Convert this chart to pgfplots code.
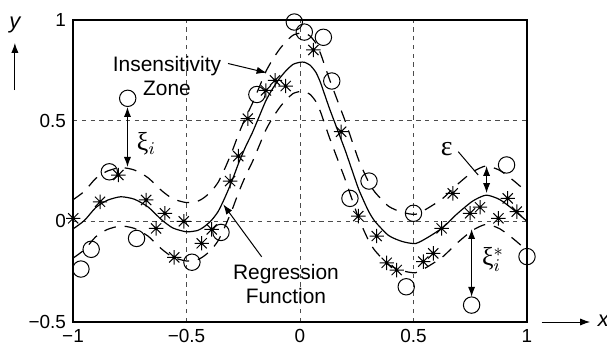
\documentclass[border=0pt]{standalone}
\usepackage{pgfplots}
\pgfplotsset{compat=1.18}
\usepackage{pgfplotstable}
\usepackage{fontspec}
\setmainfont{Liberation Sans}
\newfontfamily\gk{Liberation Serif}
\usetikzlibrary{arrows.meta}

\pgfdeclareplotmark{mstar}{%
 \pgfpathmoveto{\pgfqpoint{-\pgfplotmarksize}{0pt}}\pgfpathlineto{\pgfqpoint{\pgfplotmarksize}{0pt}}%
 \pgfpathmoveto{\pgfqpoint{0pt}{-\pgfplotmarksize}}\pgfpathlineto{\pgfqpoint{0pt}{\pgfplotmarksize}}%
 \pgfpathmoveto{\pgfqpoint{-0.707\pgfplotmarksize}{-0.707\pgfplotmarksize}}\pgfpathlineto{\pgfqpoint{0.707\pgfplotmarksize}{0.707\pgfplotmarksize}}%
 \pgfpathmoveto{\pgfqpoint{-0.707\pgfplotmarksize}{0.707\pgfplotmarksize}}\pgfpathlineto{\pgfqpoint{0.707\pgfplotmarksize}{-0.707\pgfplotmarksize}}%
 \pgfusepathqstroke}

\pgfplotstableread{
x y
-1 -0.038
-0.95 0.004
-0.9 0.068
-0.85 0.104
-0.79 0.122
-0.73 0.11
-0.67 0.072
-0.61 0.008
-0.56 -0.033
-0.5 -0.052
-0.45 -0.045
-0.42 -0.025
-0.39 0.005
-0.36 0.05
-0.33 0.12
-0.3 0.2
-0.27 0.29
-0.24 0.37
-0.21 0.44
-0.18 0.52
-0.15 0.6
-0.12 0.66
-0.09 0.71
-0.06 0.75
-0.03 0.78
0 0.79
0.02 0.79
0.045 0.775
0.07 0.74
0.09 0.69
0.11 0.625
0.13 0.56
0.155 0.485
0.18 0.41
0.2 0.35
0.235 0.235
0.26 0.155
0.3 0.055
0.33 0.0
0.39 -0.07
0.45 -0.1
0.51 -0.11
0.57 -0.075
0.63 -0.03
0.69 0.035
0.76 0.1
0.82 0.13
0.88 0.108
0.94 0.058
1 0
}\curve

\pgfplotstableread{
x y
-0.759 0.611
-0.84 0.246
-0.92 -0.139
-0.965 -0.237
-0.72 -0.085
-0.476 -0.203
-0.348 -0.055
-0.19 0.63
-0.025 0.99
0.019 0.94
0.103 0.914
0.14 0.697
0.22 0.114
0.304 0.2
0.5 0.04
0.468 -0.325
0.756 -0.416
0.91 0.28
1.0 -0.175
}\circles

\pgfplotstableread{
x y
-0.8 0.23
-0.881 0.097
-0.999 0.015
-0.678 0.106
-0.595 0.04
-0.634 -0.035
-0.512 0.0
-0.554 -0.179
-0.433 -0.109
-0.389 -0.04
-0.308 0.2
-0.272 0.324
-0.23 0.51
-0.15 0.65
-0.11 0.70
-0.063 0.672
0.059 0.851
0.181 0.445
0.257 0.026
0.338 -0.073
0.382 -0.206
0.426 -0.242
0.543 -0.2
0.587 -0.159
0.624 -0.035
0.673 0.139
0.749 0.04
0.793 0.07
0.874 0.015
0.915 0.114
0.955 0.048
}\stars

\begin{document}
\begin{tikzpicture}[>={Latex[length=5bp,width=3.6bp]}]
\begin{axis}[
  width=227bp, height=151bp, scale only axis,
  xmin=-1, xmax=1, ymin=-0.5, ymax=1,
  xtick={-1,-0.5,0,0.5,1}, xticklabels={−1,−0.5,0,0.5,1},
  ytick={-0.5,0,0.5,1}, yticklabels={−0.5,0,0.5,1},
  major tick length=0pt,
  grid=major,
  grid style={dash pattern=on 2.2bp off 2.2bp, black!70, line width=0.5bp},
  axis line style={line width=0.6bp},
  tick label style={font=\fontsize{9.5}{11}\selectfont},
  clip=false,
]
\addplot[black, line width=0.6bp, smooth, tension=0.4] table {\curve};
\addplot[black, line width=0.6bp, smooth, tension=0.4, dash pattern=on 6bp off 4.5bp] table[y expr=\thisrow{y}+0.145] {\curve};
\addplot[black, line width=0.6bp, smooth, tension=0.4, dash pattern=on 6bp off 4.5bp] table[y expr=\thisrow{y}-0.145] {\curve};
\addplot[only marks, mark=o, mark size=4.1bp, black, mark options={line width=0.5bp}] table {\circles};
\addplot[only marks, mark=mstar, mark size=3.6bp, black, mark options={line width=0.5bp}] table {\stars};

\draw[line width=1.1bp] (rel axis cs:0,1) -- (rel axis cs:0,0) -- (rel axis cs:1,0);

% annotations
\node[align=center, font=\fontsize{10.5}{12}\selectfont] at (axis cs:-0.586,0.72) {Insensitivity\\Zone};
\draw[->, line width=0.5bp] (axis cs:-0.317,0.784) -- (axis cs:-0.147,0.738);
\node[align=center, font=\fontsize{10.5}{12}\selectfont] at (axis cs:-0.062,-0.31) {Regression\\Function};
\draw[->, line width=0.5bp] (axis cs:-0.169,-0.176) -- (axis cs:-0.338,0.084);

\draw[<->, line width=0.6bp] (axis cs:-0.76,0.568) -- (axis cs:-0.76,0.27);
\node[anchor=west, inner sep=0pt, font=\fontsize{13}{14}\selectfont] at (axis cs:-0.72,0.385) {{\gk ξ}$_i$};

\node[font=\fontsize{14}{15}\selectfont] at (axis cs:0.646,0.36) {\gk ε};
\draw[line width=0.5bp] (axis cs:0.697,0.346) -- (axis cs:0.785,0.23);
\draw[<->, line width=0.6bp] (axis cs:0.822,0.275) -- (axis cs:0.822,0.14);

\draw[<->, line width=0.6bp] (axis cs:0.756,-0.038) -- (axis cs:0.756,-0.375);
\node[anchor=west, inner sep=0pt, font=\fontsize{13}{14}\selectfont] at (axis cs:0.80,-0.19) {{\gk ξ}$_i^*$};

% axis arrows
\draw[->, line width=0.5bp] (rel axis cs:-0.128,0.768) -- (rel axis cs:-0.128,0.924);
\node[font=\itshape\fontsize{11}{12}\selectfont] at (rel axis cs:-0.128,0.983) {y};
\draw[->, line width=0.5bp] (rel axis cs:1.032,0) -- (rel axis cs:1.139,0);
\node[font=\itshape\fontsize{11}{12}\selectfont] at (rel axis cs:1.168,0.005) {x};

\coordinate (BL) at (rel axis cs:0,0);
\coordinate (TR) at (rel axis cs:1,1);
\end{axis}
\pgfresetboundingbox
\path[use as bounding box] ([xshift=-36.5bp,yshift=-14bp]BL) rectangle ([xshift=40bp,yshift=10bp]TR);
\end{tikzpicture}
\end{document}
